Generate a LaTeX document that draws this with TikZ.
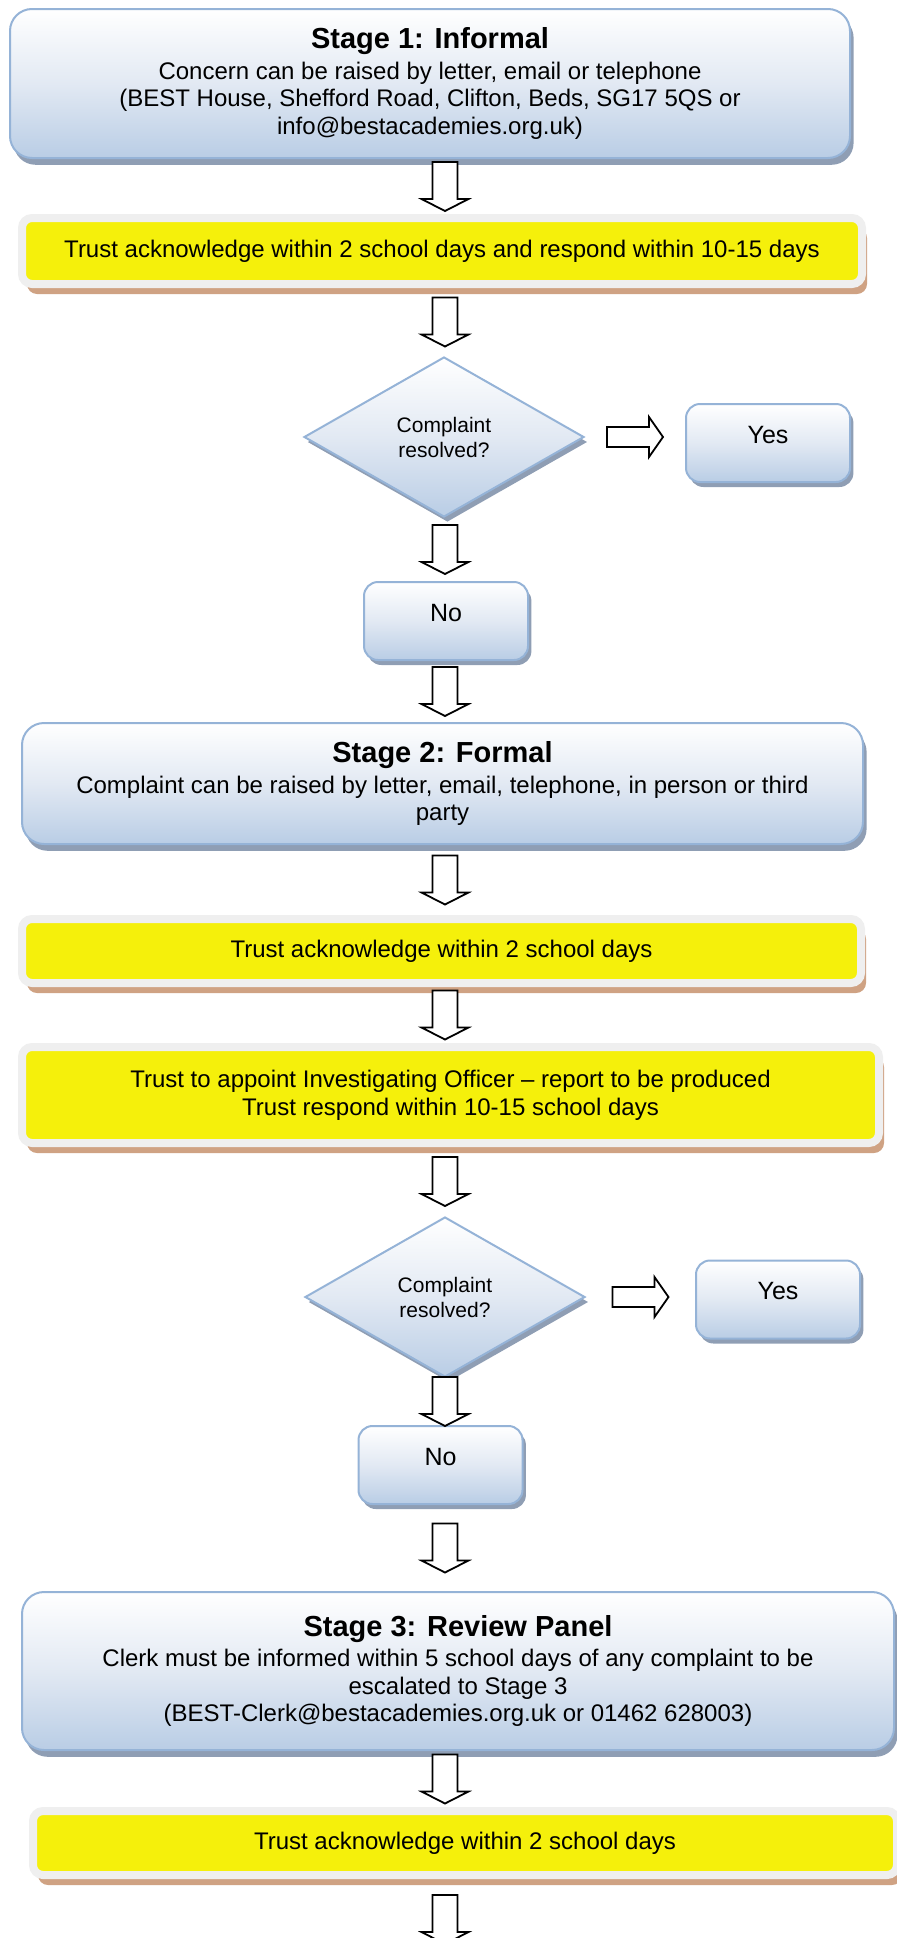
\documentclass[tikz,border=0pt]{standalone}
\usepackage{fontspec}
\setmainfont{Liberation Sans}
\usetikzlibrary{shapes.geometric,shadows,calc}

\definecolor{bordoblu}{HTML}{95B3D7}
\definecolor{azzurro}{HTML}{B9CDE5}
\definecolor{azzurrino}{HTML}{E2E9F3}
\definecolor{ombrablu}{HTML}{8F9EB4}
\definecolor{giallo}{HTML}{F5F00B}
\definecolor{cornice}{HTML}{EFEFEF}
\definecolor{ombratan}{HTML}{CFA283}

\tikzset{
    fase/.style={draw=bordoblu, line width=1pt, rounded corners=11pt,
        top color=white, bottom color=azzurro, middle color=azzurrino,
        drop shadow={shadow xshift=1.8pt, shadow yshift=-3.4pt, fill=ombrablu, opacity=1},
        align=center, inner sep=0pt, font=\fontsize{12}{13.75}\selectfont},
    avviso/.style={draw=cornice, line width=4pt, fill=giallo, rounded corners=5pt,
        drop shadow={shadow xshift=2.5pt, shadow yshift=-5pt, fill=ombratan, opacity=1},
        align=center, inner sep=0pt, font=\fontsize{12}{14}\selectfont},
    domanda/.style={diamond, draw=bordoblu, line width=1pt,
        top color=white, bottom color=azzurro, middle color=azzurrino,
        drop shadow={shadow xshift=1.7pt, shadow yshift=-2.5pt, fill=ombrablu, opacity=1},
        minimum width=140pt, minimum height=80pt, inner sep=0pt,
        align=center, font=\fontsize{10.5}{12.5}\selectfont},
    esito/.style={draw=bordoblu, line width=1pt, rounded corners=7pt,
        top color=white, bottom color=azzurro, middle color=azzurrino,
        drop shadow={shadow xshift=1.7pt, shadow yshift=-2.5pt, fill=ombrablu, opacity=1},
        minimum width=82pt, minimum height=39pt, inner sep=0pt,
        text height=9pt, text depth=9pt, font=\fontsize{12.5}{15}\selectfont},
    blocco/.style={fill=white, draw=black, line width=0.9pt, line join=miter}
}

\begin{document}
\begin{tikzpicture}[x=0.5pt, y=-0.5pt, line width=0.8pt]

    % frecce a blocco: giu' tra due nodi, a destra tra due nodi
    \newcommand{\freccia}[2]{
        \path ($(#1.south)!0.5!(#2.north)$) coordinate (mezzo);
        \filldraw[blocco] (asse |- mezzo) ++(-12.5,-24.5) -- ++(25,0) -- ++(0,37)
            -- ++(11,0) -- ++(-23.5,12) -- ++(-23.5,-12) -- ++(11,0) -- cycle;
    }
    \newcommand{\frecciadx}[2]{
        \path ($(#1.east)!0.5!(#2.west)$) coordinate (mezzo);
        \filldraw[blocco] (mezzo |- #1.east) ++(-28,-10) -- ++(42,0) -- ++(0,-10)
            -- ++(14,20) -- ++(-14,20) -- ++(0,-10) -- ++(-42,0) -- cycle;
    }

    \useasboundingbox (0,0) rectangle (896,1938);
    \coordinate (asse) at (445,0);
    \coordinate (fine) at (445,1960);

    % -- Fase 1: informale --
    \node[fase, minimum width=420pt, minimum height=74.5pt] (fase1) at (430,83.5)
        {{\fontsize{14.5}{15}\selectfont\bfseries Stage 1: Informal}\\[1.5pt]
         Concern can be raised by letter, email or telephone\\
         (BEST House, Shefford Road, Clifton, Beds, SG17 5QS or\\
         info@bestacademies.org.uk)};
    \node[avviso, minimum width=420pt, minimum height=33pt] (avviso1) at (442,251)
        {Trust acknowledge within 2 school days and respond within 10-15 days};
    \node[domanda] (dom1) at (444,437) {Complaint\\resolved?};
    \node[esito] (si1) at (768,443) {Yes};
    \node[esito] (no1) at (446,621) {No};

    % -- Fase 2: formale --
    \node[fase, minimum width=420.5pt, minimum height=60.5pt] (fase2) at (442.5,783.5)
        {{\fontsize{14.5}{15}\selectfont\bfseries Stage 2: Formal}\\[1.5pt]
         Complaint can be raised by letter, email, telephone, in person or third\\
         party};
    \node[avviso, minimum width=419.5pt, minimum height=32pt] (avviso2) at (441.5,951)
        {Trust acknowledge within 2 school days};
    \node[avviso, minimum width=428.5pt, minimum height=48pt] (avviso3) at (450.5,1095)
        {Trust to appoint Investigating Officer -- report to be produced\\
         Trust respond within 10-15 school days};
    \node[domanda] (dom2) at (445,1297) {Complaint\\resolved?};
    \node[esito] (si2) at (778,1299.5) {Yes};
    \node[esito] (no2) at (440.5,1465) {No};

    % -- Fase 3: commissione di revisione --
    \node[fase, minimum width=436pt, minimum height=79pt] (fase3) at (458,1671)
        {{\fontsize{14.5}{15}\selectfont\bfseries Stage 3: Review Panel}\\[1.5pt]
         Clerk must be informed within 5 school days of any complaint to be\\
         escalated to Stage 3\\
         (BEST-Clerk@bestacademies.org.uk or 01462 628003)};
    \node[avviso, minimum width=432pt, minimum height=32pt] (avviso4) at (465,1843)
        {Trust acknowledge within 2 school days};

    % -- Frecce --
    \freccia{fase1}{avviso1}
    \freccia{avviso1}{dom1}
    \frecciadx{dom1}{si1}
    \freccia{dom1}{no1}
    \freccia{no1}{fase2}
    \freccia{fase2}{avviso2}
    \freccia{avviso2}{avviso3}
    \freccia{avviso3}{dom2}
    \frecciadx{dom2}{si2}
    \freccia{dom2}{no2}
    \freccia{no2}{fase3}
    \freccia{fase3}{avviso4}
    \freccia{avviso4}{fine}

\end{tikzpicture}
\end{document}
